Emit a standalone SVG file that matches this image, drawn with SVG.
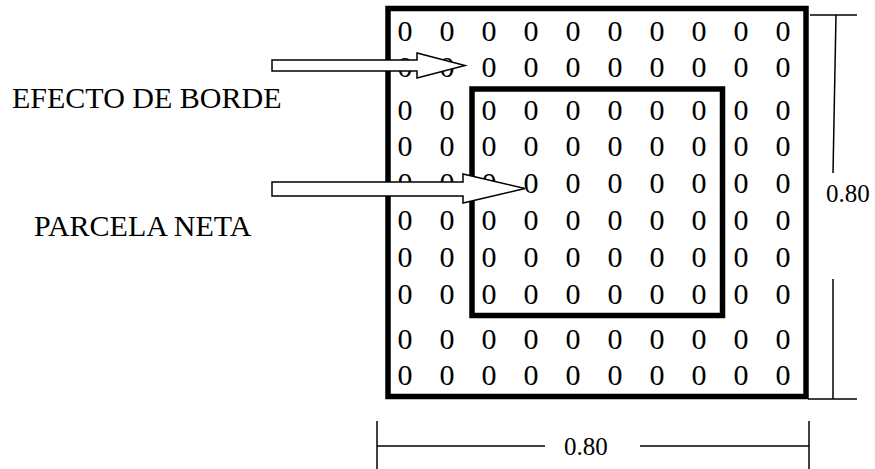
<svg xmlns="http://www.w3.org/2000/svg" width="875" height="469" viewBox="0 0 875 469">
<style>
.g{font-family:"Liberation Serif","Times New Roman",serif;font-size:30px;fill:#000;text-anchor:middle}
.lbl{font-family:"Liberation Serif","Times New Roman",serif;font-size:30px;fill:#000}
.dim{font-family:"Liberation Serif","Times New Roman",serif;font-size:25px;fill:#000}
.box{fill:none;stroke:#000;stroke-width:5.5}
.ln{stroke:#000;stroke-width:1.5;fill:none}
.arr{fill:#fff;stroke:#000;stroke-width:1.5;stroke-linejoin:miter}
</style>
<rect width="875" height="469" fill="#fff"/>
<g id="grid">
<g class="g">
<text y="41"><tspan x="405">0</tspan><tspan x="447">0</tspan><tspan x="489">0</tspan><tspan x="531">0</tspan><tspan x="573">0</tspan><tspan x="615">0</tspan><tspan x="657">0</tspan><tspan x="699">0</tspan><tspan x="741">0</tspan><tspan x="783">0</tspan></text>
<text y="77"><tspan x="405">0</tspan><tspan x="447">0</tspan><tspan x="489">0</tspan><tspan x="531">0</tspan><tspan x="573">0</tspan><tspan x="615">0</tspan><tspan x="657">0</tspan><tspan x="699">0</tspan><tspan x="741">0</tspan><tspan x="783">0</tspan></text>
<text y="120"><tspan x="405">0</tspan><tspan x="447">0</tspan><tspan x="489">0</tspan><tspan x="531">0</tspan><tspan x="573">0</tspan><tspan x="615">0</tspan><tspan x="657">0</tspan><tspan x="699">0</tspan><tspan x="741">0</tspan><tspan x="783">0</tspan></text>
<text y="156"><tspan x="405">0</tspan><tspan x="447">0</tspan><tspan x="489">0</tspan><tspan x="531">0</tspan><tspan x="573">0</tspan><tspan x="615">0</tspan><tspan x="657">0</tspan><tspan x="699">0</tspan><tspan x="741">0</tspan><tspan x="783">0</tspan></text>
<text y="193"><tspan x="405">0</tspan><tspan x="447">0</tspan><tspan x="489">0</tspan><tspan x="531">0</tspan><tspan x="573">0</tspan><tspan x="615">0</tspan><tspan x="657">0</tspan><tspan x="699">0</tspan><tspan x="741">0</tspan><tspan x="783">0</tspan></text>
<text y="230"><tspan x="405">0</tspan><tspan x="447">0</tspan><tspan x="489">0</tspan><tspan x="531">0</tspan><tspan x="573">0</tspan><tspan x="615">0</tspan><tspan x="657">0</tspan><tspan x="699">0</tspan><tspan x="741">0</tspan><tspan x="783">0</tspan></text>
<text y="267"><tspan x="405">0</tspan><tspan x="447">0</tspan><tspan x="489">0</tspan><tspan x="531">0</tspan><tspan x="573">0</tspan><tspan x="615">0</tspan><tspan x="657">0</tspan><tspan x="699">0</tspan><tspan x="741">0</tspan><tspan x="783">0</tspan></text>
<text y="304"><tspan x="405">0</tspan><tspan x="447">0</tspan><tspan x="489">0</tspan><tspan x="531">0</tspan><tspan x="573">0</tspan><tspan x="615">0</tspan><tspan x="657">0</tspan><tspan x="699">0</tspan><tspan x="741">0</tspan><tspan x="783">0</tspan></text>
<text y="349"><tspan x="405">0</tspan><tspan x="447">0</tspan><tspan x="489">0</tspan><tspan x="531">0</tspan><tspan x="573">0</tspan><tspan x="615">0</tspan><tspan x="657">0</tspan><tspan x="699">0</tspan><tspan x="741">0</tspan><tspan x="783">0</tspan></text>
<text y="385"><tspan x="405">0</tspan><tspan x="447">0</tspan><tspan x="489">0</tspan><tspan x="531">0</tspan><tspan x="573">0</tspan><tspan x="615">0</tspan><tspan x="657">0</tspan><tspan x="699">0</tspan><tspan x="741">0</tspan><tspan x="783">0</tspan></text>
</g>
</g>
<g id="outer-plot"><rect class="box" x="388" y="8.5" width="418" height="388"/></g>
<g id="net-plot"><rect class="box" x="472" y="89" width="250.5" height="226.5"/></g>
<g id="label-borde"><text class="lbl" x="12" y="108">EFECTO DE BORDE</text></g>
<g id="label-neta"><text class="lbl" x="34" y="236">PARCELA NETA</text></g>
<g id="connectors">
<polygon class="arr" points="272,60 417,60 417,53 465,65.5 417,78 417,71 272,71"/>
<polygon class="arr" points="272,182 463,182 463,174 525,188.5 463,203 463,196 272,196"/>
</g>
<g id="dimension-right">
<line class="ln" x1="810" y1="15" x2="857" y2="15"/>
<line class="ln" x1="836" y1="15" x2="833" y2="173"/>
<line class="ln" x1="833" y1="279" x2="833" y2="399"/>
<line class="ln" x1="808" y1="399" x2="857" y2="399"/>
<text class="dim" x="826" y="202">0.80</text>
</g>
<g id="dimension-bottom">
<line class="ln" x1="377" y1="421" x2="377" y2="469"/>
<line class="ln" x1="809" y1="421" x2="809" y2="469"/>
<line class="ln" x1="377" y1="446" x2="545" y2="446"/>
<line class="ln" x1="640" y1="446" x2="809" y2="446"/>
<text class="dim" x="564" y="455">0.80</text>
</g>
</svg>
